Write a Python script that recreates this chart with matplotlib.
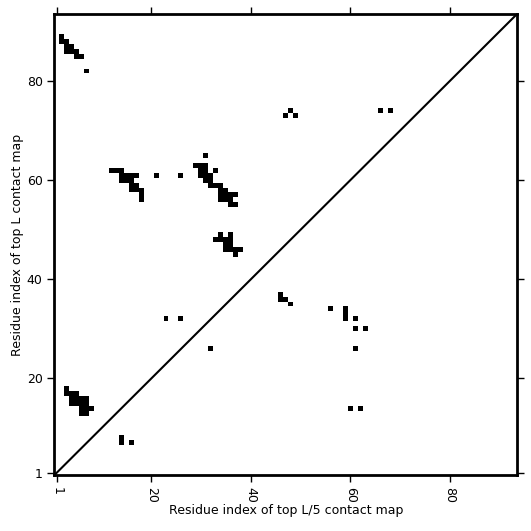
import numpy as np
import matplotlib
matplotlib.use("Agg")
import matplotlib.pyplot as plt

L = 93

# top L contacts (i, j) with i < j, 1-based residue index
top_L = [
    (2, 89), (2, 88), (3, 88), (3, 87), (4, 87), (3, 86), (4, 86), (5, 86),
    (5, 85), (6, 85), (7, 82),
    (12, 62), (13, 62), (14, 62), (14, 61), (15, 61), (16, 61), (17, 61),
    (14, 60), (15, 60), (16, 60), (16, 59), (17, 59), (16, 58), (17, 58),
    (18, 58), (18, 57), (18, 56),
    (31, 65), (29, 63), (30, 63), (31, 63), (30, 62), (31, 62), (33, 62),
    (30, 61), (31, 61), (32, 61), (31, 60), (32, 60), (32, 59), (33, 59),
    (34, 59), (34, 58), (35, 58), (34, 57), (35, 57), (36, 57), (37, 57),
    (34, 56), (35, 56), (36, 56), (36, 55), (37, 55),
    (34, 49), (36, 49), (33, 48), (34, 48), (35, 48), (36, 48), (35, 47),
    (36, 47), (35, 46), (36, 46), (37, 46), (38, 46), (37, 45),
    (3, 18), (3, 17), (4, 17), (5, 17), (4, 16), (5, 16), (6, 16), (7, 16),
    (4, 15), (5, 15), (6, 15), (7, 15), (6, 14), (7, 14), (8, 14), (6, 13),
    (7, 13),
    (21, 61), (26, 61), (23, 32), (26, 32), (47, 73), (48, 74), (49, 73),
    (66, 74), (68, 74),
]

# top L/5 contacts (i, j) with i < j
top_L5 = [
    (7, 14), (8, 14), (7, 16), (26, 32), (37, 46), (36, 46), (36, 47),
    (35, 48), (34, 56), (34, 59), (33, 59), (32, 59), (32, 61), (30, 61),
    (30, 63), (26, 61), (14, 60), (14, 62),
]

tick_labels = [1, 20, 40, 60, 80]

# upper triangle: top L, lower triangle: top L/5
cmap_mat = np.zeros((L, L))
for i, j in top_L:
    cmap_mat[j - 1, i - 1] = 1
for i, j in top_L5:
    cmap_mat[i - 1, j - 1] = 1

fig = plt.figure(figsize=(5.31, 5.31), dpi=100)
ax = fig.add_axes([0.1026, 0.1055, 0.871, 0.868])
ax.imshow(cmap_mat, cmap='Greys', vmin=0, vmax=1, origin='lower',
          interpolation='nearest', aspect='auto')
ax.plot([-0.5, L - 0.5], [-0.5, L - 0.5], color='black', lw=1.5)
ax.set_xlim(-0.5, L - 0.5)
ax.set_ylim(-0.5, L - 0.5)

ticks = [t - 1 for t in tick_labels]
ax.set_xticks(ticks)
ax.set_xticklabels([str(t) for t in tick_labels], rotation=270)
ax.set_yticks(ticks)
ax.set_yticklabels([str(t) for t in tick_labels])
ax.tick_params(top=True, right=True, direction='out', length=5, width=1,
               labelsize=9)
for s in ax.spines.values():
    s.set_linewidth(2)

ax.set_xlabel('Residue index of top L/5 contact map', fontsize=9, labelpad=1)
ax.set_ylabel('Residue index of top L contact map', fontsize=9, labelpad=2)

fig.savefig('out.png', dpi=100)
